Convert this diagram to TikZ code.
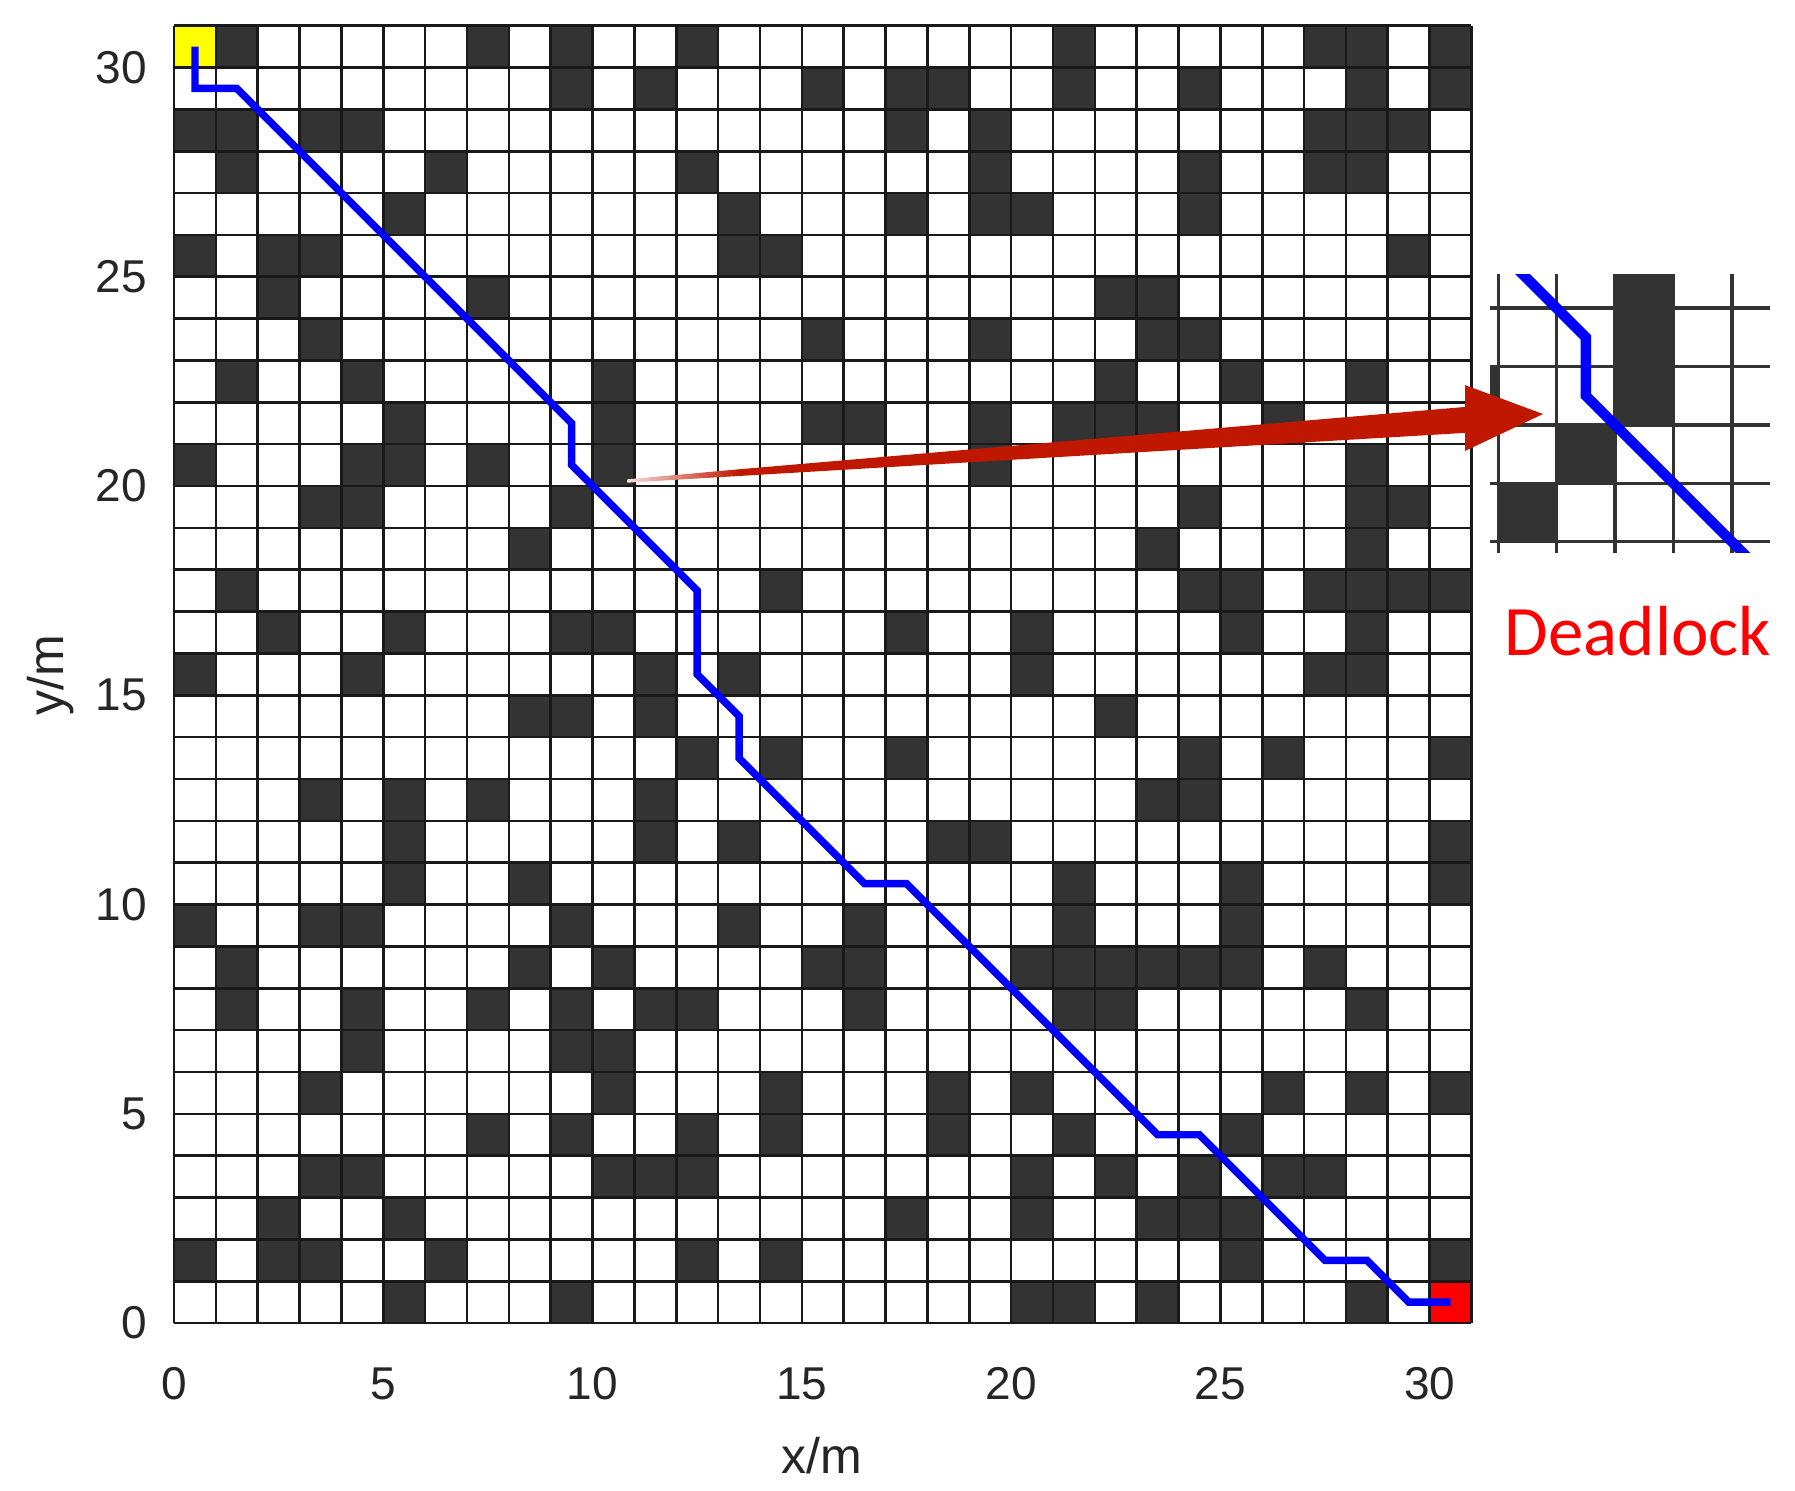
\documentclass[tikz,border=0pt]{standalone}
\usepackage{fontspec}
\setmainfont{Liberation Sans}
\newfontfamily\calib{Carlito}
\definecolor{cellk}{RGB}{51,51,51}
\definecolor{arrowred}{RGB}{192,24,0}
\definecolor{ticktxt}{RGB}{38,38,38}
\definecolor{startyel}{RGB}{255,255,0}
\definecolor{goalred}{RGB}{255,0,0}
\definecolor{pathblue}{RGB}{0,0,255}
\newcommand{\gridcells}{%
  \foreach \r/\cols in {%
    30/{1,7,9,12,21,27,28,30},
    29/{9,11,15,17,18,21,24,28,30},
    28/{0,1,3,4,17,19,27,28,29},
    27/{1,6,12,19,24,27,28},
    26/{5,13,17,19,20,24},
    25/{0,2,3,13,14,29},
    24/{2,7,22,23},
    23/{3,15,19,23,24},
    22/{1,4,10,22,25,28},
    21/{5,10,15,16,19,21,22,23,26},
    20/{0,4,5,7,10,19,28},
    19/{3,4,9,24,28,29},
    18/{8,23,28},
    17/{1,14,24,25,27,28,29,30},
    16/{2,5,9,10,17,20,25,28},
    15/{0,4,11,13,20,27,28},
    14/{8,9,11,22},
    13/{12,14,17,24,26,30},
    12/{3,5,7,11,23,24},
    11/{5,11,13,18,19,30},
    10/{5,8,21,25,30},
    9/{0,3,4,9,13,16,21,25},
    8/{1,8,10,15,16,20,21,22,23,24,25,27},
    7/{1,4,7,9,11,12,16,21,22,28},
    6/{4,9,10},
    5/{3,10,14,18,20,26,28,30},
    4/{7,9,12,14,18,21,25},
    3/{3,4,10,11,12,20,22,24,26,27},
    2/{2,5,17,20,23,24,25},
    1/{0,2,3,6,12,14,25,30},
    0/{5,9,20,21,23,28}}{%
    \foreach \c in \cols {\fill[cellk] (\c,\r) rectangle ++(1,1);}}%
  \fill[startyel] (0,30) rectangle (1,31);
  \fill[goalred] (30,0) rectangle (31,1);
}
\newcommand{\gridlines}[1]{%
  \foreach \i in {0,...,31} {\draw[#1] (\i,0) -- (\i,31); \draw[#1] (0,\i) -- (31,\i);}}
\newcommand{\robotpath}[1]{%
  \draw[#1] (0.5,30.5) -- (0.5,29.5) -- (1.5,29.5) -- (9.5,21.5) -- (9.5,20.5)
    -- (12.5,17.5) -- (12.5,15.5) -- (13.5,14.5) -- (13.5,13.5) -- (16.5,10.5)
    -- (17.5,10.5) -- (23.5,4.5) -- (24.5,4.5) -- (27.5,1.5) -- (28.5,1.5)
    -- (29.5,0.5) -- (30.5,0.5);}
\begin{document}
\begin{tikzpicture}[x=20.925pt,y=20.925pt,
  gridln/.style={black!90, line width=1.3pt},
  insetln/.style={black!80, line width=1.7pt},
  pathln/.style={pathblue, line width=3.7pt, line join=miter},
  insetpath/.style={pathblue, line width=5.2pt, line join=miter},
  ticklab/.style={text=ticktxt, inner sep=0pt, font=\fontsize{23}{27}\selectfont},
  axlab/.style={text=ticktxt, inner sep=0pt, font=\fontsize{25}{29}\selectfont}]
\useasboundingbox (-4.158,-3.990) rectangle (38.73,31.613);
\fill[white] (-4.158,-3.990) rectangle (38.73,31.613);
% main grid
\gridcells
\gridlines{gridln}
\robotpath{pathln}
% inset
\begin{scope}[shift={(20.475,-6.45)}, scale=1.3955]
  \clip (7.86,17.81) rectangle (12.65,22.57);
  \fill[white] (7.86,17.81) rectangle (12.65,22.57);
  \gridcells
  \gridlines{insetln}
  \robotpath{insetpath}
\end{scope}
% red arrow
\shade[left color=arrowred!15, right color=arrowred]
  (10.83,20.08) -- (13.5,20.24) -- (13.5,20.40) -- (10.83,20.16) -- cycle;
\fill[arrowred] (13.5,20.24) -- (30.85,21.27) -- (30.85,20.84) -- (32.71,21.72)
  -- (30.85,22.41) -- (30.85,21.89) -- (13.5,20.40) -- cycle;
% labels
\foreach \v in {0,5,...,30} {
  \node[ticklab, anchor=base] (xt\v) at (\v,-1.816) {\v};
  \node[ticklab, anchor=east] (yt\v) at (-0.645,\v) {\v};
}
\node[axlab, anchor=base] (xlab) at (15.48,-3.584) {x/m};
\node[axlab, anchor=base, rotate=90] (ylab) at (-2.652,15.48) {y/m};
\node[anchor=base, inner sep=0pt, text=goalred, font=\calib\fontsize{35.5}{40}\selectfont] (dl) at (34.98,15.94) {Deadlock};
\end{tikzpicture}
\end{document}
